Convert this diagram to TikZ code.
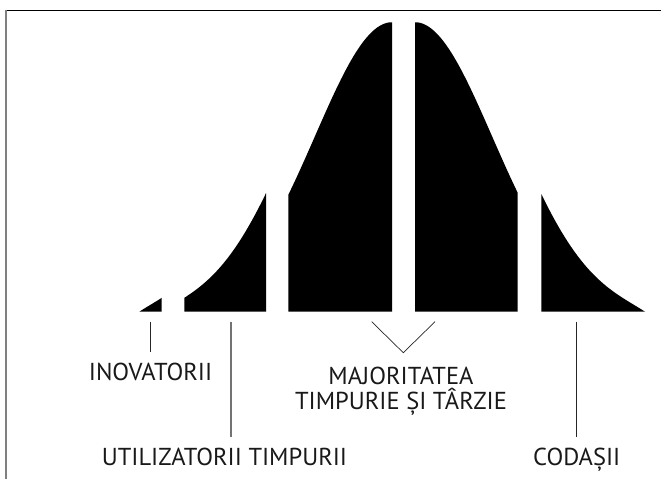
\documentclass[tikz,border=0pt]{standalone}
\usepackage{fontspec}
\setmainfont{PT Sans}
\begin{document}
\begin{tikzpicture}[x=1pt,y=-1pt,
  declare function={hh(\d)=289.4*exp(-((abs(\d)/100)^2)/1.1858)-7.8*(abs(\d)/207)^10;},
  lbl/.style={inner sep=0pt, font=\fontsize{24.5}{25.3}\selectfont, text=black!90},
  tick/.style={draw=black!85, line width=0.9pt},
  seg/.style={fill=black}]
\useasboundingbox (0,0) rectangle (661,479);
% frame
\draw[black, line width=1pt] (5.3,10) -- (661,10);
\draw[black!50, line width=1.6pt] (6,9.5) -- (6,479);
% curve segments
\fill[seg] (139.3,311.7) -- plot[domain=-207:-184.6, samples=20] ({346.3+\x},{311.7-hh(\x)}) -- (161.7,311.7) -- cycle;
\fill[seg] (184.3,311.7) -- plot[domain=-184.6:-102.9, samples=50] ({368.9+\x},{311.7-hh(\x)}) -- (266,311.7) -- cycle;
\fill[seg] (288.3,311.7) -- plot[domain=-103.7:0, samples=60] ({392+\x},{311.7-hh(\x)}) -- (392,311.7) -- cycle;
\fill[seg] (415,311.7) -- plot[domain=0:102.7, samples=60] ({415+\x},{311.7-hh(\x)}) -- (517.7,311.7) -- cycle;
\fill[seg] (541.3,311.7) -- plot[domain=103.3:207, samples=60] ({438+\x},{311.7-hh(\x)}) -- (645,311.7) -- cycle;
% labels
\node[lbl, anchor=base] (inov) at (150.5,380) {INOVATORII};
\node[lbl, anchor=base] (ea) at (224.5,465.7) {UTILIZATORII TIMPURII};
\node[lbl, anchor=base, align=center] (maj) at (401,409.3) {MAJORITATEA\\TIMPURIE ȘI TÂRZIE};
\node[lbl, anchor=base] (cod) at (576.7,465) {CODAȘII};
% connectors
\coordinate (inovtop) at (150,321.7);
\coordinate (inovbot) at (150,351.7);
\coordinate (eatop) at (231,321.7);
\coordinate (eabot) at (231,437.3);
\coordinate (vl) at (371.7,321.7);
\coordinate (vm) at (403.3,352.7);
\coordinate (vr) at (435,321.7);
\coordinate (codtop) at (576.7,321.7);
\coordinate (codbot) at (576.7,437.3);
\draw[tick] (inovtop) -- (inovbot);
\draw[tick, draw=black!55, line width=1.3pt] (eatop) -- (eabot);
\draw[tick, line width=0.7pt] (vl) -- (vm) -- (vr);
\draw[tick] (codtop) -- (codbot);
\end{tikzpicture}
\end{document}
